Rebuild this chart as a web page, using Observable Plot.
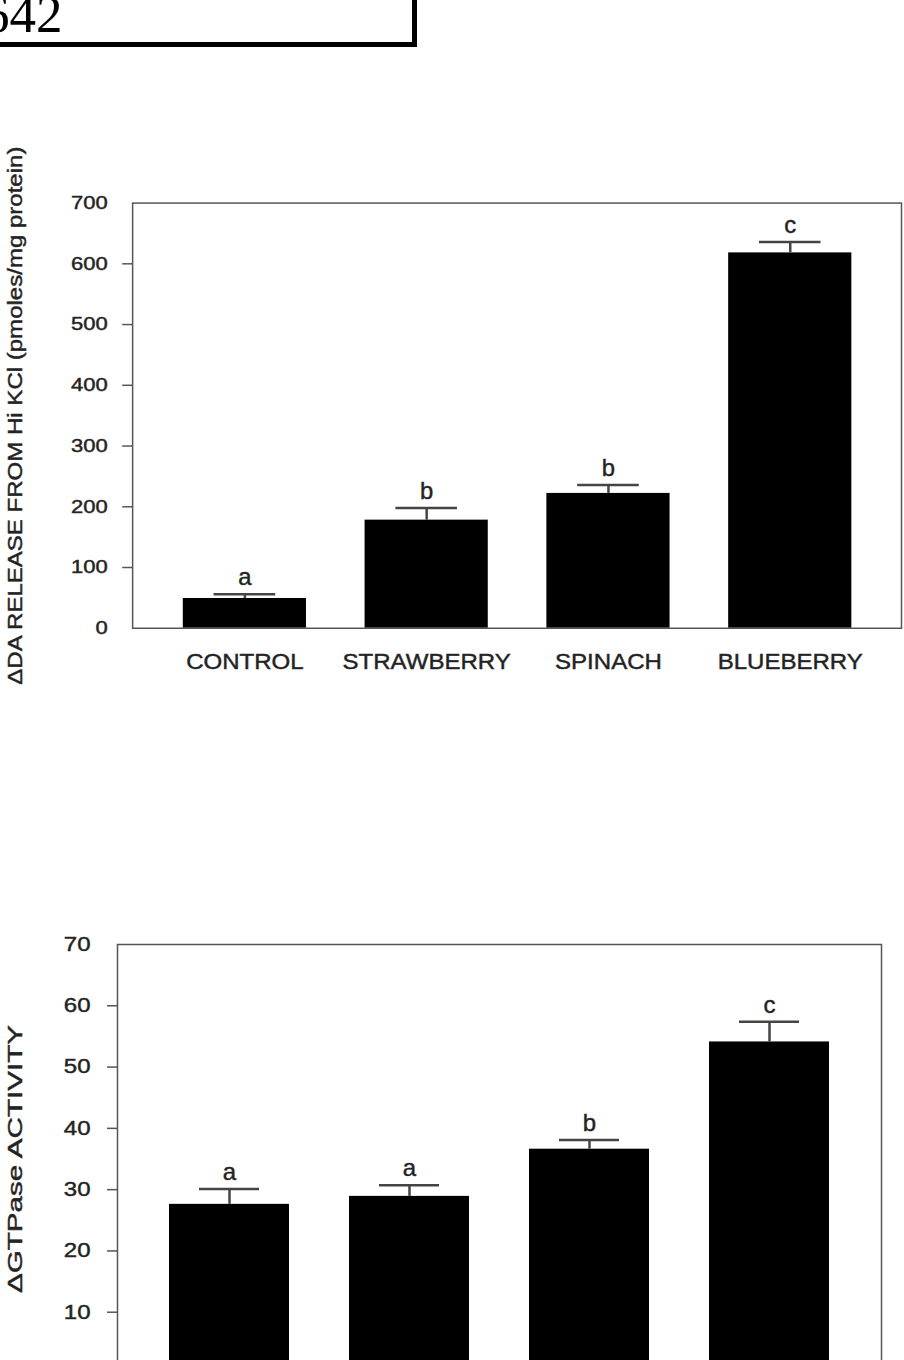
<!DOCTYPE html>
<html><head><meta charset="utf-8">
<script src="https://cdn.jsdelivr.net/npm/d3@7"></script>
<script src="https://cdn.jsdelivr.net/npm/@observablehq/plot@0.6"></script>
<style>
html,body{margin:0;padding:0;background:#fff;overflow:hidden;}
body{width:904px;height:1360px;position:relative;font-family:"Liberation Sans",Arial,sans-serif;}
#pagebox{position:absolute;left:-30px;top:-20px;width:447px;height:67px;box-sizing:border-box;border:5px solid #000;}
#pagenum{position:absolute;left:-17px;top:-12px;font-family:"Liberation Serif","Times New Roman",serif;font-size:53px;line-height:1;color:#000;}
.chart{position:absolute;left:0;}
.chart svg text{stroke:#2a2a2a;stroke-width:0.45px;}
</style></head><body>
<div id="pagebox"></div><div id="pagenum">642</div>
<div id="chartA" class="chart" style="top:140px"></div>
<div id="chartB" class="chart" style="top:880px"></div>
<script>
const categories = ["CONTROL", "STRAWBERRY", "SPINACH", "BLUEBERRY"];
const daRelease = [49, 178, 222, 618];
const daErrorTop = [56, 198, 236, 636];
const daLetters = ["a", "b", "b", "c"];
const daTicks = [0, 100, 200, 300, 400, 500, 600, 700];
const daTickMarks = [100, 200, 300, 400, 500, 600];
const daTitle = "\u0394DA RELEASE FROM Hi KCl (pmoles/mg protein)";

const gtpase = [27.6, 28.9, 36.6, 54.1];
const gtpaseErrorTop = [30.1, 30.7, 38.1, 57.4];
const gtpaseLetters = ["a", "a", "b", "c"];
const gtpTicks = [0, 10, 20, 30, 40, 50, 60, 70];
const gtpTickMarks = [10, 20, 30, 40, 50, 60];
const gtpTitle = "\u0394GTPase ACTIVITY";

function stretchText(t, k) {
  const L = t.getComputedTextLength();
  if (L > 0) { t.setAttribute("textLength", L * k); t.setAttribute("lengthAdjust", "spacingAndGlyphs"); }
}
function stretch(svg, label, k) {
  svg.querySelectorAll(`g[aria-label="${label}"] text`).forEach(t => stretchText(t, k));
}
function stretchContent(svg, content, k) {
  svg.querySelectorAll("text").forEach(t => { if (t.textContent === content) stretchText(t, k); });
}

function drawChart(o) {
  const data = categories.map((c, i) => ({cat: c, v: o.values[i], e: o.errTop[i], l: o.letters[i]}));
  const svg = Plot.plot({
    width: o.width,
    height: o.marginTop + o.plotHeight + o.marginBottom,
    marginLeft: o.marginLeft, marginRight: o.marginRight, marginTop: o.marginTop, marginBottom: o.marginBottom,
    style: {background: "white", fontFamily: "'Liberation Sans', Arial, sans-serif"},
    x: {domain: categories, paddingInner: o.paddingInner, paddingOuter: o.paddingOuter, label: null},
    y: {domain: [0, o.yMax], label: null},
    marks: [
      Plot.barY(data, {x: "cat", y: "v", fill: "#000"}),
      Plot.ruleX(data, {x: "cat", y1: "v", y2: "e", stroke: "#444", strokeWidth: 2.5}),
      Plot.tickY(data, {x: "cat", y: "e", stroke: "#444", strokeWidth: 2.5, inset: o.capInset}),
      Plot.text(data, {x: "cat", y: "e", text: "l", dy: -9, lineAnchor: "bottom", fontSize: 24, fill: "#222"}),
      Plot.frame({stroke: "#555", strokeWidth: 1.5}),
      Plot.axisY({ticks: o.tickMarks, tickSize: 10, text: null, label: null, stroke: "#555", strokeWidth: 1.5}),
      Plot.axisY({ticks: o.ticks, tickSize: 0, tickPadding: o.pad, fontSize: o.tickFont, fill: "#222", label: null}),
      Plot.axisX({tickSize: 0, tickPadding: 25, fontSize: 22, fill: "#222", label: null}),
      Plot.text([o.title], {text: d => d, frameAnchor: "left", rotate: -90, dx: -o.titleOffset, lineAnchor: "top", textAnchor: "middle", fontSize: o.titleFont, fill: "#222"})
    ]
  });
  document.getElementById(o.el).appendChild(svg);
  stretch(svg, "y-axis tick label", o.tickK);
  stretch(svg, "x-axis tick label", 1.1);
  stretchContent(svg, o.title, o.titleK);
}

drawChart({
  el: "chartA", values: daRelease, errTop: daErrorTop, letters: daLetters,
  yMax: 700, ticks: daTicks, tickMarks: daTickMarks, title: daTitle,
  width: 910, marginLeft: 133, marginRight: 3, marginTop: 63, plotHeight: 428, marginBottom: 60,
  paddingInner: 0.323, paddingOuter: 0.273, capInset: 31,
  tickFont: 18, tickK: 1.23, pad: 25, titleFont: 20, titleK: 1.21, titleOffset: 126
});

drawChart({
  el: "chartB", values: gtpase, errTop: gtpaseErrorTop, letters: gtpaseLetters,
  yMax: 70, ticks: gtpTicks, tickMarks: gtpTickMarks, title: gtpTitle,
  width: 904, marginLeft: 117, marginRight: 23, marginTop: 64, plotHeight: 429, marginBottom: 60,
  paddingInner: 0.331, paddingOuter: 0.282, capInset: 30,
  tickFont: 20, tickK: 1.2, pad: 27, titleFont: 20, titleK: 1.48, titleOffset: 110
});
</script>
</body></html>
